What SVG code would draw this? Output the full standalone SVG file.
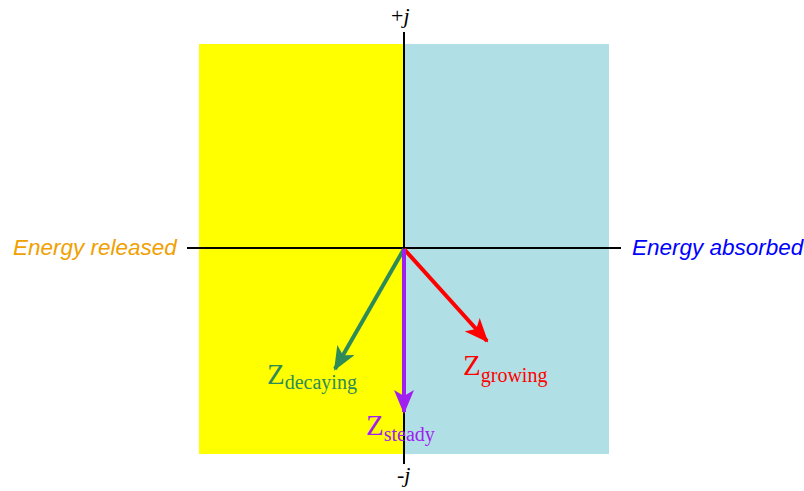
<svg xmlns="http://www.w3.org/2000/svg" width="804" height="491" viewBox="0 0 804 491">
<style>
.axis{stroke:#000;stroke-width:2;fill:none}
.vec{stroke-width:4;fill:none}
.lab{font-family:"Liberation Sans",Arial,sans-serif;font-style:italic;font-size:22.5px}
.j{font-family:"Liberation Serif","Times New Roman",serif;font-size:22px}
.z{font-family:"Liberation Serif","Times New Roman",serif;font-size:29px}
.sub{font-size:20px}
</style>
<defs>
<marker id="ag" viewBox="0 0 12 10" refX="11" refY="5" markerWidth="6" markerHeight="5" orient="auto" markerUnits="strokeWidth"><path d="M0,0 L12,5 L0,10 L3,5 z" fill="#2e8b57"/></marker>
<marker id="ar" viewBox="0 0 12 10" refX="11" refY="5" markerWidth="6" markerHeight="5" orient="auto" markerUnits="strokeWidth"><path d="M0,0 L12,5 L0,10 L3,5 z" fill="#ff0000"/></marker>
<marker id="ap" viewBox="0 0 12 10" refX="11" refY="5" markerWidth="6" markerHeight="5" orient="auto" markerUnits="strokeWidth"><path d="M0,0 L12,5 L0,10 L3,5 z" fill="#a020f0"/></marker>
</defs>
<g id="regions">
<rect x="199" y="44" width="205" height="410" fill="#ffff00"/>
<rect x="404" y="44" width="205" height="410" fill="#b0e0e6"/>
</g>
<g id="axes">
<line class="axis" x1="404" y1="32" x2="404" y2="464"/>
<line class="axis" x1="187" y1="248" x2="621" y2="248"/>
<text class="j" x="391" y="23">+<tspan font-style="italic">j</tspan></text>
<text class="j" x="397" y="482">-<tspan font-style="italic">j</tspan></text>
</g>
<g id="labels">
<text class="lab" x="13" y="255" fill="#f0a000">Energy released</text>
<text class="lab" x="632" y="255" fill="#0000ff">Energy absorbed</text>
</g>
<g id="connectors">
<line class="vec" x1="404" y1="249" x2="335" y2="369" stroke="#2e8b57" marker-end="url(#ag)"/>
<line class="vec" x1="404" y1="249" x2="487" y2="341" stroke="#ff0000" marker-end="url(#ar)"/>
<line class="vec" x1="404" y1="249" x2="404" y2="412" stroke="#a020f0" marker-end="url(#ap)"/>
</g>
<g id="z-decaying">
<text class="z" x="267" y="384" fill="#2e8b57">Z<tspan class="sub" dy="5">decaying</tspan></text>
</g>
<g id="z-growing">
<text class="z" x="463" y="375" fill="#ff0000">Z<tspan class="sub" dy="7">growing</tspan></text>
</g>
<g id="z-steady">
<text class="z" x="366" y="435" fill="#a020f0">Z<tspan class="sub" dy="6">steady</tspan></text>
</g>
</svg>
